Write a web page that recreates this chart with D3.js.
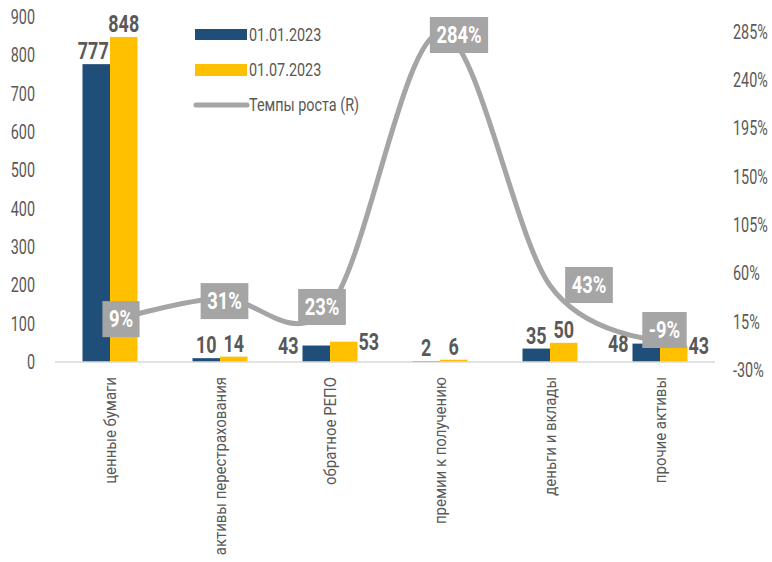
<!DOCTYPE html>
<html>
<head>
<meta charset="utf-8">
<title>Активы: структура и темпы роста</title>
<script src="https://cdn.jsdelivr.net/npm/d3@7"></script>
<style>
  body { margin: 0; background: #fff; }
  svg text { font-family: Roboto, "Liberation Sans", sans-serif; }
</style>
</head>
<body>
<script>

	// data
	var categories = ["ценные бумаги", "активы перестрахования", "обратное РЕПО", "премии к получению", "деньги и вклады", "прочие активы"];
	var seriesNames = ["01.01.2023", "01.07.2023"];
	var jan2023 = [777, 10, 43, 2, 35, 48];
	var jul2023 = [848, 14, 53, 6, 50, 43];
	var growth = [9, 31, 23, 284, 43, -9];          // Темпы роста, %
	var leftTicks = [0, 100, 200, 300, 400, 500, 600, 700, 800, 900];
	var rightTicks = [-30, 15, 60, 105, 150, 195, 240, 285];

	// layout / style settings
	var W = 772, H = 562;
	var plot = { left: 55, right: 715, top: 17, bottom: 362 };
	var colors = { jan: "#1f4e79", jul: "#ffc000", line: "#a5a5a5", text: "#595959", axis: "#d9d9d9" };
	var narrow = 0.78;   // horizontal squeeze, the source uses a condensed face
	// manual nudges of the growth labels (as placed in the original)
	var growthLabelShift = [[11, -2], [4.5, 3], [-8, 0.5], [19, 2], [39, -0.5], [4.5, -10]];
	// bar labels that sit beside the bars instead of on top
	var sideLabels = [2, 5];

	// turn x/y of a text into a transform and squeeze it horizontally
	function squeeze(sel, k) {
		sel.each(function () {
			var t = d3.select(this);
			var tx = +t.attr("x") || 0, ty = +t.attr("y") || 0;
			var prev = t.attr("transform") || "";
			t.attr("x", null).attr("y", null)
				.attr("transform", prev + " translate(" + tx + "," + ty + ") scale(" + k + ",1)");
		});
	}

	var svg = d3.select("body").append("svg")
		.attr("width", W)
		.attr("height", H);

	var x = d3.scaleBand().domain(categories).range([plot.left, plot.right]);
	var bw = x.bandwidth();
	var xs = d3.scaleBand().domain(seriesNames).range([bw * 0.25, bw * 0.75]);
	var yL = d3.scaleLinear().domain([0, 900]).range([plot.bottom, plot.top]);
	var yR = d3.scaleLinear().domain([-30, 285]).range([plot.bottom, 32]);
	// right axis labels sit a little lower than the gridline positions in the source
	var yRLabel = d3.scaleLinear().domain([-30, 285]).range([370, 32]);

	// left axis
	svg.append("g")
		.attr("transform", "translate(" + plot.left + ",0)")
		.call(d3.axisLeft(yL).tickValues(leftTicks).tickSize(0).tickPadding(20))
		.call(function (g) { g.select(".domain").remove(); })
		.selectAll("text")
		.style("font-size", "20px")
		.attr("fill", colors.text)
		.call(squeeze, 0.72);

	// right axis
	svg.append("g")
		.attr("transform", "translate(" + plot.right + ",0)")
		.call(d3.axisRight(yRLabel).tickValues(rightTicks).tickSize(0).tickPadding(18).tickFormat(function (d) { return d + "%"; }))
		.call(function (g) { g.select(".domain").remove(); })
		.selectAll("text")
		.style("font-size", "20px")
		.attr("fill", colors.text)
		.call(squeeze, 0.72);

	// bars
	var rows = categories.map(function (c, i) {
		return { cat: c, i: i, vals: [{ s: seriesNames[0], v: jan2023[i] }, { s: seriesNames[1], v: jul2023[i] }] };
	});

	var groups = svg.append("g").selectAll("g")
		.data(rows)
		.enter().append("g")
		.attr("transform", function (d) { return "translate(" + x(d.cat) + ",0)"; });

	groups.selectAll("rect")
		.data(function (d) { return d.vals; })
		.enter().append("rect")
		.attr("x", function (d) { return xs(d.s); })
		.attr("width", xs.bandwidth())
		.attr("y", function (d) { return yL(d.v); })
		.attr("height", function (d) { return yL(0) - yL(d.v); })
		.attr("fill", function (d, j) { return j === 0 ? colors.jan : colors.jul; });

	// bar value labels
	groups.each(function (row) {
		var g = d3.select(this);
		row.vals.forEach(function (d, j) {
			var t = g.append("text")
				.text(d.v)
				.attr("fill", colors.text)
				.style("font-size", "23px")
				.style("font-weight", "bold");
			if (sideLabels.indexOf(row.i) >= 0) {
				if (j === 0) {
					t.attr("x", xs(d.s) - 4).attr("text-anchor", "end");
				} else {
					t.attr("x", xs(d.s) + xs.bandwidth() + 1).attr("text-anchor", "start");
				}
				t.attr("y", yL(d.v) + 8);
			} else {
				t.attr("x", xs(d.s) + xs.bandwidth() / 2 - (row.i === 0 && j === 0 ? 3 : 0))
					.attr("text-anchor", "middle")
					.attr("y", yL(d.v) - 5);
			}
			t.call(squeeze, narrow);
		});
	});

	// category axis line
	svg.append("line")
		.attr("x1", plot.left).attr("x2", plot.right)
		.attr("y1", plot.bottom).attr("y2", plot.bottom)
		.attr("stroke", colors.axis)
		.attr("stroke-width", 1.5);

	// category labels (rotated)
	svg.append("g").selectAll("text")
		.data(categories)
		.enter().append("text")
		.attr("transform", function (d) { return "translate(" + (x(d) + bw / 2 + 6) + ",377) rotate(-90)"; })
		.attr("text-anchor", "end")
		.attr("fill", colors.text)
		.style("font-size", "17px")
		.text(function (d) { return d; })
		.call(squeeze, 0.88);

	// growth line (smoothed like Excel)
	var line = d3.line()
		.x(function (d, i) { return x(categories[i]) + bw / 2; })
		.y(function (d) { return yR(d); })
		.curve(d3.curveCardinal.tension(0));

	svg.append("path")
		.datum(growth)
		.attr("d", line)
		.attr("fill", "none")
		.attr("stroke", colors.line)
		.attr("stroke-width", 5)
		.attr("stroke-linecap", "round");

	// growth labels in gray boxes
	var gl = svg.append("g").selectAll("g")
		.data(growth)
		.enter().append("g")
		.attr("transform", function (d, i) {
			var cx = x(categories[i]) + bw / 2 + growthLabelShift[i][0];
			var cy = yR(d) + growthLabelShift[i][1];
			return "translate(" + cx + "," + cy + ")";
		});

	gl.each(function (d) {
		var g = d3.select(this);
		var rect = g.append("rect").attr("fill", colors.line);
		var t = g.append("text")
			.text(d + "%")
			.attr("text-anchor", "middle")
			.attr("dy", "0.36em")
			.attr("fill", "#fff")
			.style("font-size", "23px")
			.style("font-weight", "bold");
		var w = t.node().getComputedTextLength() * 0.8 + 13;
		t.call(squeeze, 0.8);
		rect.attr("x", -w / 2).attr("y", -18).attr("width", w).attr("height", 36);
	});

	// legend
	var legend = svg.append("g");
	legend.append("rect").attr("x", 195).attr("y", 29).attr("width", 52).attr("height", 11).attr("fill", colors.jan);
	legend.append("rect").attr("x", 195).attr("y", 64).attr("width", 52).attr("height", 12).attr("fill", colors.jul);
	legend.append("line").attr("x1", 196).attr("x2", 247).attr("y1", 105).attr("y2", 105)
		.attr("stroke", colors.line).attr("stroke-width", 5).attr("stroke-linecap", "round");
	var legendText = [seriesNames[0], seriesNames[1], "Темпы роста (R)"];
	var legendY = [35, 70, 105];
	legend.selectAll("text")
		.data(legendText)
		.enter().append("text")
		.attr("x", 249)
		.attr("y", function (d, i) { return legendY[i]; })
		.attr("dy", "0.35em")
		.attr("fill", colors.text)
		.style("font-size", "18px")
		.text(function (d) { return d; })
		.call(squeeze, 0.8);

</script>
</body>
</html>
